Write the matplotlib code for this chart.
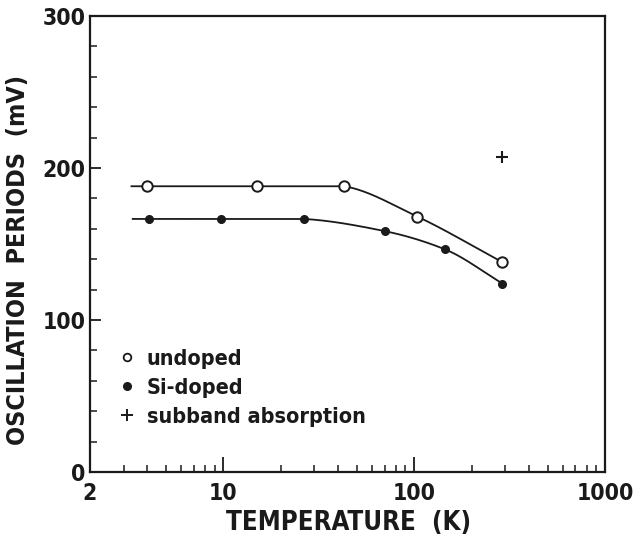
import numpy as np
import matplotlib.pyplot as plt
from matplotlib.ticker import FixedLocator, NullFormatter
from matplotlib.lines import Line2D

# data
undoped_T = [4.0, 15, 43, 104, 290]
undoped_P = [188, 188, 188, 168, 138]
sidoped_T = [4.1, 9.7, 26.5, 70, 145, 290]
sidoped_P = [166.5, 166.5, 166.5, 158.5, 146.5, 124]
absorption_T = [290]
absorption_P = [207]
# the hand drawn guide lines start a bit left of the first point
guide_start_T = [3.3, 3.35]

x_ticks = [2, 10, 100, 1000]
x_ticklabels = ['2', '10', '100', '1000']
y_ticks = [0, 100, 200, 300]

plt.rcParams['font.family'] = ['DejaVu Sans']
plt.rcParams['font.stretch'] = 'condensed'
plt.rcParams['font.weight'] = 'bold'
plt.rcParams['axes.labelweight'] = 'bold'


def guide(T, P, start):
    # smooth curve through the points in log(T); flat stretches stay straight
    x = np.log10(np.r_[start, T])
    y = np.r_[P[0], P].astype(float)
    h = np.diff(x)
    d = np.diff(y) / h
    m = np.zeros_like(y)
    for k in range(1, len(y) - 1):
        if d[k - 1] * d[k] > 0:
            w1 = 2 * h[k] + h[k - 1]
            w2 = h[k] + 2 * h[k - 1]
            m[k] = (w1 + w2) / (w1 / d[k - 1] + w2 / d[k])
        elif d[k - 1] == 0 and d[k] != 0:
            m[k] = 0.4 * d[k]
    m[-1] = d[-1]
    ml = m[:-1].copy()
    mr = m[1:].copy()
    ml[d == 0] = 0
    mr[d == 0] = 0
    xs = np.linspace(x[0], x[-1], 400)
    i = np.clip(np.searchsorted(x, xs) - 1, 0, len(h) - 1)
    t = (xs - x[i]) / h[i]
    ys = ((2 * t**3 - 3 * t**2 + 1) * y[i] + (t**3 - 2 * t**2 + t) * h[i] * ml[i]
          + (-2 * t**3 + 3 * t**2) * y[i + 1] + (t**3 - t**2) * h[i] * mr[i])
    return 10**xs, ys


fig = plt.figure(figsize=(6.35, 5.41), dpi=100)
ax = fig.add_axes([0.1417, 0.1275, 0.8111, 0.8429])

ink = '#1a1a1a'

gx, gy = guide(undoped_T, undoped_P, guide_start_T[0])
ax.plot(gx, gy, color=ink, lw=1.3)
gx, gy = guide(sidoped_T, sidoped_P, guide_start_T[1])
ax.plot(gx, gy, color=ink, lw=1.3)

ax.plot(undoped_T, undoped_P, 'o', ms=7.5, mfc='white', mec=ink, mew=1.4, zorder=3)
ax.plot(sidoped_T, sidoped_P, 'o', ms=5.5, mfc=ink, mec=ink, zorder=3)
ax.plot(absorption_T, absorption_P, '+', ms=9, mec=ink, mew=1.5, zorder=3)

ax.set_xscale('log')
ax.set_xlim(2, 1000)
ax.set_ylim(0, 300)

ax.xaxis.set_major_locator(FixedLocator(x_ticks))
ax.set_xticklabels(x_ticklabels)
ax.xaxis.set_minor_locator(FixedLocator([3, 4, 5, 6, 7, 8, 9, 20, 30, 40, 50, 60, 70, 80, 90,
                                         200, 300, 400, 500, 600, 700, 800, 900]))
ax.xaxis.set_minor_formatter(NullFormatter())
ax.set_yticks(y_ticks)
ax.yaxis.set_minor_locator(FixedLocator(np.arange(0, 301, 20)))

ax.tick_params(which='both', direction='in', top=False, right=False, color=ink,
               labelsize=16.5, labelcolor=ink)
ax.tick_params(axis='x', which='major', length=11, width=1.3, pad=7)
ax.tick_params(axis='x', which='minor', length=5, width=1.1)
ax.tick_params(axis='y', which='major', length=8, width=1.3, pad=3)
ax.tick_params(axis='y', which='minor', length=5, width=1.1)

for s in ax.spines.values():
    s.set_linewidth(1.6)
    s.set_color(ink)

ax.set_xlabel('TEMPERATURE  (K)', fontsize=18.5, color=ink)
ax.set_ylabel('OSCILLATION  PERIODS  (mV)', fontsize=18, color=ink)
ax.xaxis.set_label_coords(0.503, -0.083)
ax.yaxis.set_label_coords(-0.1165, 0.465)

handles = [
    Line2D([], [], ls='none', marker='o', ms=5.5, mfc='white', mec=ink, mew=1.3),
    Line2D([], [], ls='none', marker='o', ms=5.5, mfc=ink, mec=ink),
    Line2D([], [], ls='none', marker='+', ms=9, mec=ink, mew=1.4),
]
ax.legend(handles, ['undoped', 'Si-doped', 'subband absorption'],
          loc='upper left', bbox_to_anchor=(0.035, 0.294), frameon=False,
          fontsize=15.5, handlelength=0.8, handletextpad=0.5, labelspacing=0.42,
          borderpad=0, labelcolor=ink)

fig.savefig('out.png', dpi=100)
